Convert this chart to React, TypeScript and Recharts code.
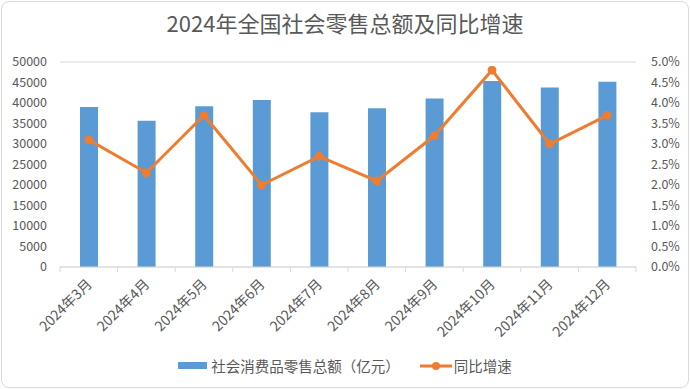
import React from 'react';
import {
  ComposedChart,
  Bar,
  Line,
  XAxis,
  YAxis,
  CartesianGrid,
  Legend,
} from 'recharts';

const MONTHS = ['2024年3月', '2024年4月', '2024年5月', '2024年6月', '2024年7月', '2024年8月', '2024年9月', '2024年10月', '2024年11月', '2024年12月'];
const RETAIL_SALES = [39020, 35699, 39211, 40732, 37757, 38726, 41112, 45396, 43763, 45172];
const GROWTH = [3.1, 2.3, 3.7, 2.0, 2.7, 2.1, 3.2, 4.8, 3.0, 3.7];
const LEFT_TICKS = [0, 5000, 10000, 15000, 20000, 25000, 30000, 35000, 40000, 45000, 50000];
const RIGHT_TICKS = [0, 0.5, 1, 1.5, 2, 2.5, 3, 3.5, 4, 4.5, 5];

const SALES_NAME = '社会消费品零售总额（亿元）';
const GROWTH_NAME = '同比增速';

const data = MONTHS.map((m, i) => ({ month: m, sales: RETAIL_SALES[i], growth: GROWTH[i] }));

const FONT = '"Noto Sans CJK SC", "Noto Sans", sans-serif';
const TEXT = '#595959';
const GRID = '#D9D9D9';
const BLUE = '#5B9BD5';
const ORANGE = '#ED7D31';

const XTick = (props: any) => {
  const { x, y, payload, index } = props;
  const off = payload.offset ?? 0;
  const last = index === MONTHS.length - 1;
  const tx = x + 4;
  const ty = y + 18;
  return (
    <g>
      <line x1={x - off} x2={x - off} y1={y} y2={y + 5} stroke={GRID} />
      {last && <line x1={x + off} x2={x + off} y1={y} y2={y + 5} stroke={GRID} />}
      <text
        x={tx}
        y={ty}
        textAnchor="end"
        fill={TEXT}
        fontSize={14}
        fontFamily={FONT}
        transform={`rotate(-45, ${tx}, ${ty})`}
      >
        {payload.value}
      </text>
    </g>
  );
};

const LegendContent = () => (
  <div style={{ display: 'flex', justifyContent: 'center', alignItems: 'center', fontFamily: FONT, fontSize: 14.5, color: TEXT }}>
    <span style={{ display: 'inline-block', width: 29, height: 7, background: BLUE, marginRight: 4 }} />
    <span style={{ marginRight: 20 }}>{SALES_NAME}</span>
    <svg width={32} height={10} style={{ marginRight: 2 }}>
      <line x1={0} x2={32} y1={5} y2={5} stroke={ORANGE} strokeWidth={3} />
      <circle cx={16} cy={5} r={4} fill={ORANGE} />
    </svg>
    <span>{GROWTH_NAME}</span>
  </div>
);

export default function App() {
  return (
    <div style={{ position: 'absolute', left: 0, top: 0, width: 690, height: 389, background: '#fff' }}>
      <div
        style={{
          position: 'absolute',
          left: 1,
          top: 1,
          width: 686,
          height: 385,
          border: `1px solid ${GRID}`,
          borderRadius: 8,
          pointerEvents: 'none',
        }}
      />
      <div
        style={{
          position: 'absolute',
          top: 7,
          width: 690,
          textAlign: 'center',
          fontFamily: FONT,
          fontSize: 22,
          color: TEXT,
          lineHeight: '30px',
        }}
      >
        2024年全国社会零售总额及同比增速
      </div>
      <ComposedChart
        width={690}
        height={389}
        data={data}
        margin={{ top: 62, right: 0, bottom: 12, left: 0 }}
      >
        <CartesianGrid vertical={false} stroke={GRID} />
        <XAxis
          dataKey="month"
          interval={0}
          height={88}
          tickSize={0}
          tickMargin={0}
          axisLine={{ stroke: GRID }}
          tickLine={false}
          tick={<XTick />}
        />
        <YAxis
          yAxisId="left"
          width={60}
          domain={[0, 50000]}
          ticks={LEFT_TICKS}
          interval={0}
          axisLine={false}
          tickLine={false}
          tickSize={0}
          tickMargin={13}
          tick={{ fill: TEXT, fontSize: 12.5, fontFamily: FONT }}
        />
        <YAxis
          yAxisId="right"
          orientation="right"
          width={54}
          domain={[0, 5]}
          ticks={RIGHT_TICKS}
          interval={0}
          axisLine={false}
          tickLine={false}
          tickSize={0}
          tickMargin={15}
          tickFormatter={(v: number) => `${v.toFixed(1)}%`}
          tick={{ fill: TEXT, fontSize: 12.5, fontFamily: FONT, textAnchor: 'start' }}
        />
        <Legend verticalAlign="bottom" height={22} content={<LegendContent />} />
        <Bar yAxisId="left" dataKey="sales" name={SALES_NAME} fill={BLUE} barSize={18} isAnimationActive={false} />
        <Line
          yAxisId="right"
          dataKey="growth"
          name={GROWTH_NAME}
          stroke={ORANGE}
          strokeWidth={3}
          dot={{ r: 4, fill: ORANGE, stroke: ORANGE, strokeWidth: 1 }}
          isAnimationActive={false}
        />
      </ComposedChart>
    </div>
  );
}
